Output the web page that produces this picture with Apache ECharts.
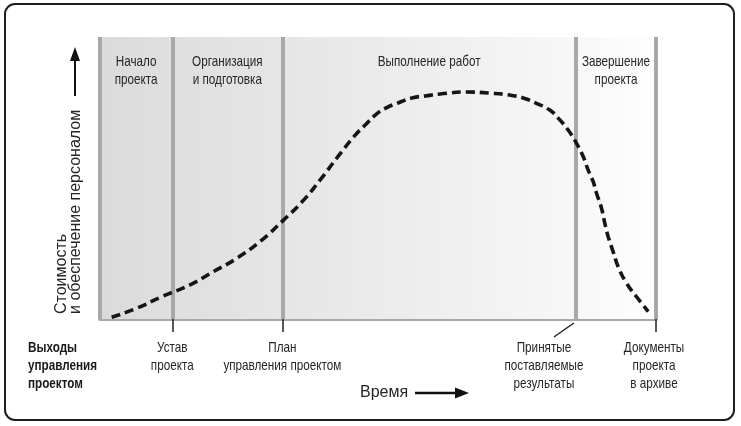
<!DOCTYPE html>
<html>
<head>
<meta charset="utf-8">
<script src="https://cdn.jsdelivr.net/npm/echarts@6/dist/echarts.min.js"></script>
<style>
html,body{margin:0;padding:0;background:#fff;}
#chart{width:741px;height:426px;}
</style>
</head>
<body>
<div id="chart"></div>
<script>
// ---- data ----
const phaseBounds = [0, 13, 32.8, 85.6, 100];
const phaseNames = ['Начало\nпроекта', 'Организация\nи подготовка', 'Выполнение работ', 'Завершение\nпроекта'];
const milestoneX = [13, 32.8, 85.6, 100];
const milestoneNames = ['Устав\nпроекта', 'План\nуправления проектом', 'Принятые\nпоставляемые\nрезультаты', 'Документы\nпроекта\nв архиве'];
const outputsTitle = 'Выходы\nуправления\nпроектом';
const yTitle = 'Стоимость\nи обеспечение персоналом';
const xTitle = 'Время';
const curveX = [2.1, 6.6, 11.1, 16.2, 20.4, 24.6, 29.1, 32.9, 36.5, 39.6, 42.6, 45.9, 47.7, 49.5, 51.4, 53.6, 56.1, 58.5, 61.2, 66.0, 70.1, 73.7, 76.1, 78.5, 80.9, 82.7, 84.2, 85.7, 86.9, 87.8, 88.7, 89.3, 90.2, 90.8, 91.4, 92.3, 93.2, 94.7, 96.5, 98.6];
const curveY = [0.6, 3.8, 7.9, 12.1, 16.8, 21.5, 28.0, 34.9, 41.9, 49.3, 57.1, 65.2, 68.8, 72.3, 74.8, 76.6, 78.4, 79.1, 79.8, 80.5, 80.1, 79.4, 78.4, 76.5, 74.1, 70.6, 67.0, 62.3, 57.6, 52.8, 48.7, 44.6, 39.3, 33.9, 29.2, 23.8, 18.5, 12.7, 7.9, 2.6];

// ---- style ----
const SANS = "'Liberation Sans', Arial, sans-serif";
const NARROW_SCALE = 0.78;
const TEXT = '#262626';
const GRAY = '#a8a8a8';
// horizontal shift (px) of milestone labels relative to their milestone
const milestoneLabelShift = [0, 0, -32, -2];
const tickedMilestones = [true, true, false, true];

const chart = echarts.init(document.getElementById('chart'), null, {renderer: 'canvas'});

const option = {
  animation: false,
  backgroundColor: '#fff',
  grid: {left: 100, right: 85, top: 37, bottom: 107},
  xAxis: {
    type: 'value', min: 0, max: 100,
    axisLine: {show: true, lineStyle: {color: GRAY, width: 4}},
    axisTick: {
      show: true,
      customValues: milestoneX.filter((v, i) => tickedMilestones[i]),
      length: 13,
      lineStyle: {color: '#222', width: 1.5}
    },
    axisLabel: {show: false},
    splitLine: {show: false}
  },
  yAxis: {
    type: 'value', min: 0, max: 100, show: false
  },
  series: [
    {
      type: 'line', data: [], silent: true,
      markArea: {
        silent: true,
        itemStyle: {
          color: new echarts.graphic.LinearGradient(0, 0, 1, 0, [
            {offset: 0, color: '#dbdbdb'},
            {offset: 0.5, color: '#ebebeb'},
            {offset: 0.85, color: '#f7f7f7'},
            {offset: 1, color: '#fefefe'}
          ])
        },
        data: [[{xAxis: phaseBounds[0]}, {xAxis: phaseBounds[phaseBounds.length - 1]}]]
      },
      markLine: {
        silent: true, symbol: 'none',
        label: {show: false},
        lineStyle: {color: GRAY, width: 4, type: 'solid'},
        data: phaseBounds.map(v => ({xAxis: v}))
      }
    },
    {
      type: 'line', name: 'cost', z: 5,
      data: curveX.map((x, i) => [x, curveY[i]]),
      smooth: 0.5, showSymbol: false, symbol: 'none',
      lineStyle: {color: '#151515', width: 3.6, type: [9, 5], cap: 'butt'}
    }
  ]
};
chart.setOption(option);

// ---- annotations positioned through the chart's scales ----
const px = v => chart.convertToPixel({gridIndex: 0}, [v, 0]);
const graphics = [];
// frame
graphics.push({type: 'rect', shape: {x: 5, y: 4, width: 729, height: 416, r: 10}, style: {fill: 'none', stroke: '#1f1f1f', lineWidth: 2}, z: 100});

const axisY = px(0)[1];
const topY = chart.convertToPixel({gridIndex: 0}, [0, 100])[1];

function narrowText(x, y, text, align, bold) {
  return {
    type: 'text', x: x, y: y, scaleX: NARROW_SCALE, z: 50,
    style: {text: text, font: (bold ? 'bold ' : '') + '15px ' + SANS, fill: bold ? '#1a1a1a' : TEXT,
            align: align, verticalAlign: 'top', lineHeight: 18}
  };
}

phaseNames.forEach((name, i) => {
  const cx = (px(phaseBounds[i])[0] + px(phaseBounds[i + 1])[0]) / 2;
  graphics.push(narrowText(cx, topY + 16, name, 'center', false));
});

milestoneNames.forEach((name, i) => {
  const p = px(milestoneX[i]);
  graphics.push(narrowText(p[0] + milestoneLabelShift[i], axisY + 20, name, 'center', false));
  if (!tickedMilestones[i]) {
    graphics.push({
      type: 'line', shape: {x1: p[0] - 2, y1: axisY + 4, x2: p[0] - 22, y2: axisY + 18},
      style: {stroke: '#222', lineWidth: 1.5}
    });
  }
});

graphics.push(narrowText(28, axisY + 20, outputsTitle, 'left', true));

// y title (rotated) and arrow
graphics.push({
  type: 'text', x: 68.5, y: axisY - 5, rotation: Math.PI / 2,
  style: {text: yTitle, font: '16px ' + SANS, fill: TEXT, align: 'left', verticalAlign: 'middle', lineHeight: 13.5}
});
graphics.push({type: 'line', shape: {x1: 75, y1: 96, x2: 75, y2: 58}, style: {stroke: '#111', lineWidth: 2}});
graphics.push({type: 'polygon', shape: {points: [[75, 47], [70, 61], [80, 61]]}, style: {fill: '#111'}});

// x title and arrow
graphics.push({
  type: 'text', x: 360, y: 393,
  style: {text: xTitle, font: '16px ' + SANS, fill: TEXT, align: 'left', verticalAlign: 'middle'}
});
graphics.push({type: 'line', shape: {x1: 415, y1: 393, x2: 457, y2: 393}, style: {stroke: '#111', lineWidth: 2.5}});
graphics.push({type: 'polygon', shape: {points: [[469, 393], [455, 387.5], [455, 398.5]]}, style: {fill: '#111'}});

chart.setOption({graphic: graphics});
</script>
</body>
</html>
